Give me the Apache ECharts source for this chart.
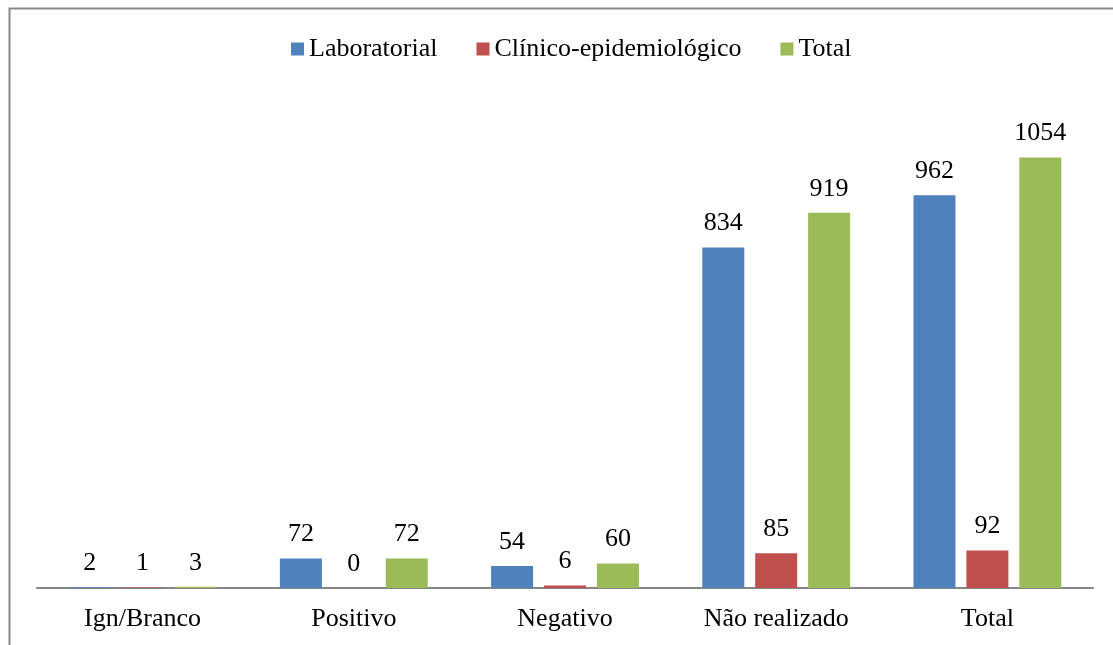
<!DOCTYPE html>
<html>
<head>
<meta charset="utf-8">
<script src="https://cdn.jsdelivr.net/npm/echarts@6/dist/echarts.min.js"></script>
<style>
  html, body { margin: 0; padding: 0; background: #fff; }
  #chart { width: 1113px; height: 645px; }
</style>
</head>
<body>
<div id="chart"></div>
<script>
const categories = ['Ign/Branco', 'Positivo', 'Negativo', 'Não realizado', 'Total']
const laboratorial = [2, 72, 54, 834, 962]
const clinicoEpidemiologico = [1, 0, 6, 85, 92]
const total = [3, 72, 60, 919, 1054]

const chart = echarts.init(document.getElementById('chart'))
const fontFamily = '"Liberation Serif", "Times New Roman", serif'

const barLabel = {
  show: true,
  position: 'top',
  distance: 11,
  color: '#000',
  fontFamily: fontFamily,
  fontSize: 26
}

const option = {
  backgroundColor: '#fff',
  animation: false,
  textStyle: { fontFamily: fontFamily },
  graphic: [{
    type: 'rect',
    shape: { x: 9.5, y: 8.5, width: 1200, height: 700 },
    style: { fill: 'none', stroke: '#888888', lineWidth: 2 }
  }],
  legend: {
    top: 31,
    left: 286,
    itemWidth: 13,
    itemHeight: 13,
    itemGap: 39,
    icon: 'rect',
    textStyle: { color: '#000', fontSize: 26, fontFamily: fontFamily },
    data: ['Laboratorial', 'Clínico-epidemiológico', 'Total']
  },
  grid: { left: 37, right: 20, top: 98, bottom: 57, containLabel: false },
  xAxis: {
    type: 'category',
    data: categories,
    axisLine: { show: true, lineStyle: { color: '#868686', width: 2 } },
    axisTick: { show: false },
    axisLabel: { color: '#000', fontSize: 26, fontFamily: fontFamily, margin: 18 }
  },
  yAxis: {
    type: 'value',
    min: 0,
    max: 1200,
    show: false,
    splitLine: { show: false }
  },
  series: [
    {
      name: 'Laboratorial',
      type: 'bar',
      data: laboratorial,
      barWidth: 42,
      barGap: '26%',
      itemStyle: { color: '#4f81bd' },
      label: barLabel
    },
    {
      name: 'Clínico-epidemiológico',
      type: 'bar',
      data: clinicoEpidemiologico,
      barWidth: 42,
      barGap: '26%',
      itemStyle: { color: '#c0504d' },
      label: barLabel
    },
    {
      name: 'Total',
      type: 'bar',
      data: total,
      barWidth: 42,
      barGap: '26%',
      itemStyle: { color: '#9bbb59' },
      label: barLabel
    }
  ]
}

chart.setOption(option)
</script>
</body>
</html>
